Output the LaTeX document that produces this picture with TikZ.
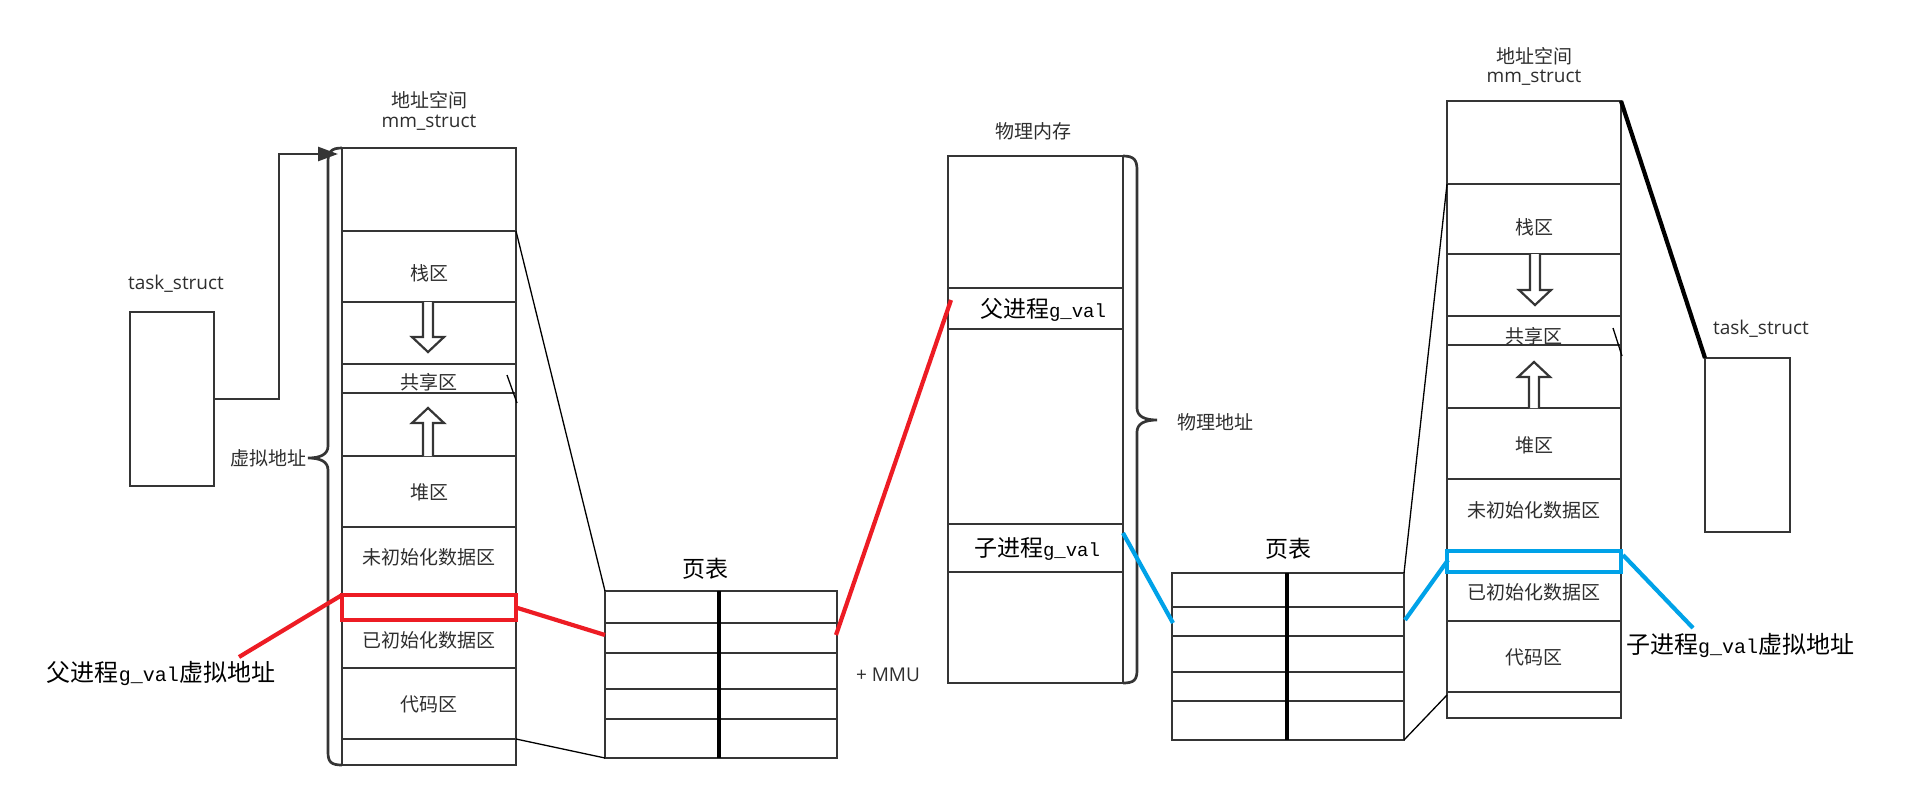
\documentclass[tikz,border=0pt]{standalone}
\usepackage{fontspec}
\setmainfont{Open Sans}
\newfontfamily\cjk{Noto Sans CJK SC}
\newfontfamily\monof{Liberation Mono}
\usetikzlibrary{arrows.meta}
\definecolor{ln}{HTML}{353535}
\definecolor{txt}{HTML}{2E2E2E}
\definecolor{pred}{HTML}{ED1C24}
\definecolor{pblue}{HTML}{00A2E8}
\newcommand\hollowarr[4]{%
  \draw[hollow] (#1-5,#2) -- (#1-5,#3) -- (#1-16,#3) -- (#1,#4) -- (#1+16,#3) -- (#1+5,#3) -- (#1+5,#2);}
\begin{document}
\begin{tikzpicture}[x=1pt,y=-1pt,line join=miter,
  box/.style={draw=ln, line width=2.9pt, inner sep=0pt, outer sep=0pt, anchor=north west},
  row/.style={draw=ln, line width=2.7pt},
  thinrow/.style={draw=ln, line width=2.2pt},
  thinl/.style={draw=black, line width=1.3pt},
  lbl/.style={font=\cjk\fontsize{19pt}{19pt}\selectfont, text=txt, inner sep=0pt},
  lat/.style={font=\fontsize{19pt}{19pt}\selectfont, text=txt, inner sep=0pt},
  big/.style={font=\cjk\fontsize{24pt}{24pt}\selectfont, text=black, inner sep=0pt},
  ttl/.style={font=\cjk\fontsize{23pt}{23pt}\selectfont, text=black, inner sep=0pt},
  redl/.style={draw=pred, line width=4.2pt},
  bluel/.style={draw=pblue, line width=4.2pt},
  hollow/.style={draw=ln, line width=2.2pt, fill=white},
  bracest/.style={draw=ln, line width=2.7pt},
  conn/.style={draw=ln, line width=2.7pt, -{Triangle[length=20pt,width=14pt]}}]
\useasboundingbox (0,0) rectangle (1908,808);

% ---------- left task_struct ----------
\node[lat] (tsLlbl) at (176,284) {task\_struct};
\node[box, minimum width=84pt, minimum height=174pt] (tsL) at (130,312) {};

% ---------- left mm_struct ----------
\node[lbl] (mmLt1) at (429,100) {地址空间};
\node[lat] (mmLt2) at (429,123) {mm\_struct};
\node[box, minimum width=174pt, minimum height=617pt] (mmL) at (342,148) {};
\foreach \yy in {231,302,364,393,456,527,595,620,668,739} \draw[row] (342,\yy) -- (516,\yy);
\node[lbl] (lStack) at (429,273) {栈区};
\node[lbl] (lShare) at (429,382) {共享区};
\node[lbl] (lHeap) at (429,492) {堆区};
\node[lbl] (lBss) at (429,557) {未初始化数据区};
\node[lbl] (lData) at (429,640) {已初始化数据区};
\node[lbl] (lCode) at (429,704) {代码区};
\hollowarr{428}{302}{337}{352}
\hollowarr{428}{456}{423}{408}
\draw[thinl] (507,375) -- (517,403);

% brace 虚拟地址
\draw[bracest] (342,148) .. controls (331,148) and (328,152) .. (328,162) -- (328,446)
  .. controls (328,454) and (321,458) .. (308,458) .. controls (321,458) and (328,462) .. (328,470)
  -- (328,752) .. controls (328,762) and (331,765) .. (342,765);
\node[lbl] (vaddr) at (268,458) {虚拟地址};

% task_struct -> mm_struct
\coordinate (mmLin) at (338,154);
\draw[conn] (tsL.east) -| (279,154) -- (mmLin);

% red box and label
\node[draw=pred, line width=4.6pt, inner sep=0pt, outer sep=0pt, anchor=north west,
  minimum width=174pt, minimum height=25pt] (redbox) at (342,595) {};
\node[big] (plbl) at (161,673) {父进程{\monof\fontsize{20pt}{20pt}\selectfont g\_val}虚拟地址};
\coordinate (plblA) at (239,657);
\draw[redl] (plblA) -- (redbox.north west);

% ---------- page table 1 ----------
\node[ttl] (pt1lbl) at (705,569) {页表};
\node[box, minimum width=232pt, minimum height=167pt] (pt1) at (605,591) {};
\foreach \yy in {623,653,689,719} \draw[row] (605,\yy) -- (837,\yy);
\draw[draw=black, line width=4.2pt] (719,591) -- (719,758);
\node[lat] (mmu) at (888,675) {+ MMU};
\coordinate (pt1L) at (605,635);
\coordinate (pt1R) at (836,635);
\coordinate (mmLr1) at (516,231);
\coordinate (mmLr2) at (516,739);
\draw[thinl] (mmLr1) -- (pt1.north west);
\draw[thinl] (mmLr2) -- (pt1.south west);
\draw[redl] (redbox.east) -- (pt1L);

% ---------- physical memory ----------
\node[lbl] (pmlbl) at (1033,131) {物理内存};
\node[box, minimum width=175pt, minimum height=527pt] (pm) at (948,156) {};
\foreach \yy in {288,329,524,572} \draw[thinrow] (948,\yy) -- (1123,\yy);
\node[big, font=\cjk\fontsize{23pt}{23pt}\selectfont] (pmF) at (1043,310) {父进程{\monof\fontsize{19pt}{19pt}\selectfont g\_val}};
\node[big, font=\cjk\fontsize{23pt}{23pt}\selectfont] (pmS) at (1037,549) {子进程{\monof\fontsize{19pt}{19pt}\selectfont g\_val}};
\coordinate (pmFL) at (951,300);
\coordinate (pmSR) at (1123,533);
\draw[redl] (pt1R) -- (pmFL);
\draw[bracest] (1123,156) .. controls (1134,156) and (1137,160) .. (1137,170) -- (1137,408)
  .. controls (1137,416) and (1144,420) .. (1157,420) .. controls (1144,420) and (1137,424) .. (1137,432)
  -- (1137,670) .. controls (1137,680) and (1134,683) .. (1123,683);
\node[lbl] (paddr) at (1215,422) {物理地址};

% ---------- page table 2 ----------
\node[ttl] (pt2lbl) at (1288,549) {页表};
\node[box, minimum width=232pt, minimum height=167pt] (pt2) at (1172,573) {};
\foreach \yy in {607,636,672,701} \draw[row] (1172,\yy) -- (1404,\yy);
\draw[draw=black, line width=4.2pt] (1287,573) -- (1287,740);
\coordinate (pt2L) at (1173,623);
\coordinate (pt2R) at (1405,620);
\draw[bluel] (pmSR) -- (pt2L);

% ---------- right mm_struct ----------
\node[lbl] (mmRt1) at (1534,56) {地址空间};
\node[lat] (mmRt2) at (1534,78) {mm\_struct};
\node[box, minimum width=174pt, minimum height=617pt] (mmR) at (1447,101) {};
\foreach \yy in {184,254,316,345,408,479,551,572,621,692} \draw[row] (1447,\yy) -- (1621,\yy);
\node[lbl] (rStack) at (1534,227) {栈区};
\node[lbl] (rShare) at (1534,336) {共享区};
\node[lbl] (rHeap) at (1534,445) {堆区};
\node[lbl] (rBss) at (1534,510) {未初始化数据区};
\node[lbl] (rData) at (1534,592) {已初始化数据区};
\node[lbl] (rCode) at (1534,657) {代码区};
\hollowarr{1535}{254}{290}{305}
\hollowarr{1534}{408}{377}{362}
\draw[thinl] (1613,328) -- (1622,356);
\node[draw=pblue, line width=4.6pt, inner sep=0pt, outer sep=0pt, anchor=north west,
  minimum width=174pt, minimum height=21pt] (bluebox) at (1447,551) {};
\coordinate (mmRr1) at (1447,184);
\coordinate (mmRr2) at (1447,695);
\coordinate (blueL) at (1448,560);
\coordinate (blueR) at (1623,555);
\draw[thinl] (mmRr1) -- (pt2.north east);
\draw[thinl] (pt2.south east) -- (mmRr2);
\draw[bluel] (pt2R) -- (blueL);

\node[big] (slbl) at (1740,645) {子进程{\monof\fontsize{20pt}{20pt}\selectfont g\_val}虚拟地址};
\coordinate (slblA) at (1693,628);
\draw[bluel] (blueR) -- (slblA);

% ---------- right task_struct ----------
\node[lat] (tsRlbl) at (1761,329) {task\_struct};
\node[box, minimum width=85pt, minimum height=174pt] (tsR) at (1705,358) {};
\draw[draw=black, line width=4.2pt] (mmR.north east) -- (tsR.north west);
\end{tikzpicture}
\end{document}
